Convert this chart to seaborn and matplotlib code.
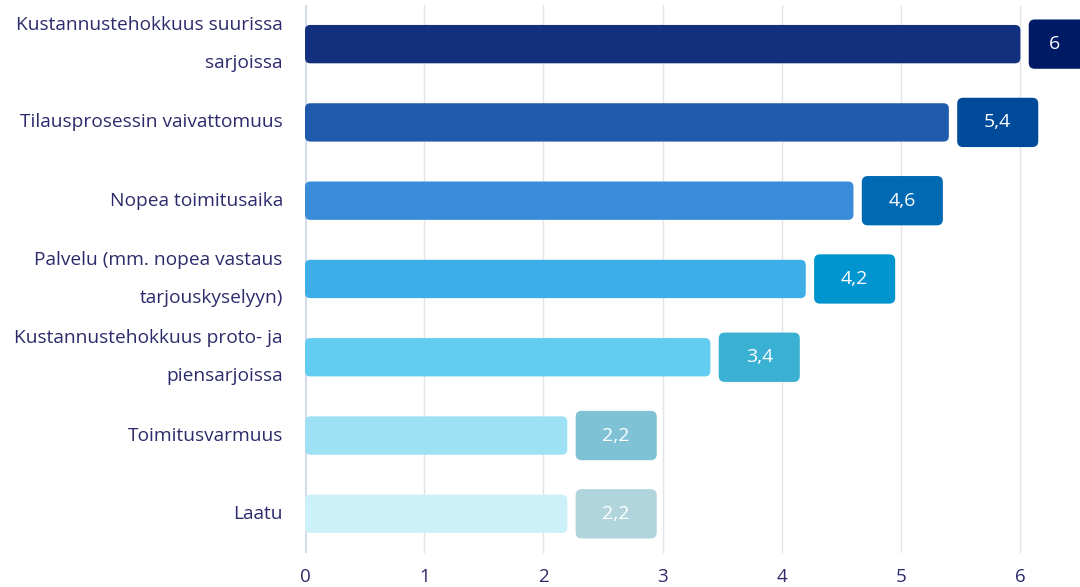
import matplotlib
matplotlib.use("Agg")
import matplotlib.pyplot as plt
from matplotlib.patches import FancyBboxPatch
import seaborn as sns
import pandas as pd

# data
categories = [
    "Kustannustehokkuus suurissa\nsarjoissa",
    "Tilausprosessin vaivattomuus",
    "Nopea toimitusaika",
    "Palvelu (mm. nopea vastaus\ntarjouskyselyyn)",
    "Kustannustehokkuus proto- ja\npiensarjoissa",
    "Toimitusvarmuus",
    "Laatu",
]
values = [6.0, 5.4, 4.6, 4.2, 3.4, 2.2, 2.2]
value_labels = ["6", "5,4", "4,6", "4,2", "3,4", "2,2", "2,2"]
bar_colors = ["#13307f", "#1f5aad", "#3a8bd8", "#3daee8", "#62cdf0", "#9ee0f4", "#cdf1f9"]
box_colors = ["#001a66", "#004a9a", "#0069b4", "#0095cf", "#3ab0d3", "#7fc2d6", "#b0d5dd"]
x_ticks = [0, 1, 2, 3, 4, 5, 6]

sns.set_theme(style="white")
plt.rcParams["font.family"] = ["Open Sans", "DejaVu Sans"]
text_color = "#2d2b6b"

df = pd.DataFrame({"kategoria": categories, "arvo": values})

fig = plt.figure(figsize=(10.8, 5.87), dpi=100)
ax = fig.add_axes([0.2824, 0.058, 0.7176, 0.9335])

sns.barplot(data=df, y="kategoria", x="arvo", hue="kategoria", palette=bar_colors,
            legend=False, width=0.49, ax=ax, saturation=1)

xmax = 6.5
ax.set_xlim(0, xmax)
ax.set_ylim(len(categories) - 0.5, -0.5)

# rounded bars
aspect = (775 / xmax) / 78.3
for patch in list(ax.patches):
    x0, y0 = patch.get_x(), patch.get_y()
    w, h = patch.get_width(), patch.get_height()
    fc = patch.get_facecolor()
    patch.remove()
    ax.add_patch(FancyBboxPatch((x0, y0), w, h,
                                boxstyle="round,pad=0,rounding_size=0.045",
                                mutation_aspect=aspect, fc=fc, ec="none", zorder=3))

# value boxes
box_w, box_h, gap = 0.68, 0.63, 0.07
for i, (v, lab, bc) in enumerate(zip(values, value_labels, box_colors)):
    left = v + gap
    ax.add_patch(FancyBboxPatch((left, i - box_h / 2), box_w, box_h,
                                boxstyle="round,pad=0,rounding_size=0.05",
                                mutation_aspect=aspect, fc=bc, ec="none", zorder=3))
    tx = min(left + box_w / 2, (left + xmax) / 2)
    ax.text(tx, i, lab, ha="center", va="center", color="white", fontsize=14, zorder=4)

# grid
for t in x_ticks[1:]:
    ax.axvline(t, color="#e4e4e8", lw=1, zorder=0)
ax.axvline(0, color="#d3dbeb", lw=2.2, zorder=1)

ax.set_xticks(x_ticks)
ax.set_xticklabels([str(t) for t in x_ticks])
ax.set_xlabel("")
ax.set_ylabel("")
for s in ax.spines.values():
    s.set_visible(False)
ax.tick_params(axis="x", length=0, pad=11, labelsize=13.5, labelcolor=text_color)
ax.tick_params(axis="y", length=0, pad=16, labelsize=13.8, labelcolor=text_color)
for lbl in ax.get_yticklabels():
    lbl.set_linespacing(2.4)
    lbl.set_horizontalalignment("right")
    lbl.set_verticalalignment("center")

fig.savefig("out.png", dpi=100)
